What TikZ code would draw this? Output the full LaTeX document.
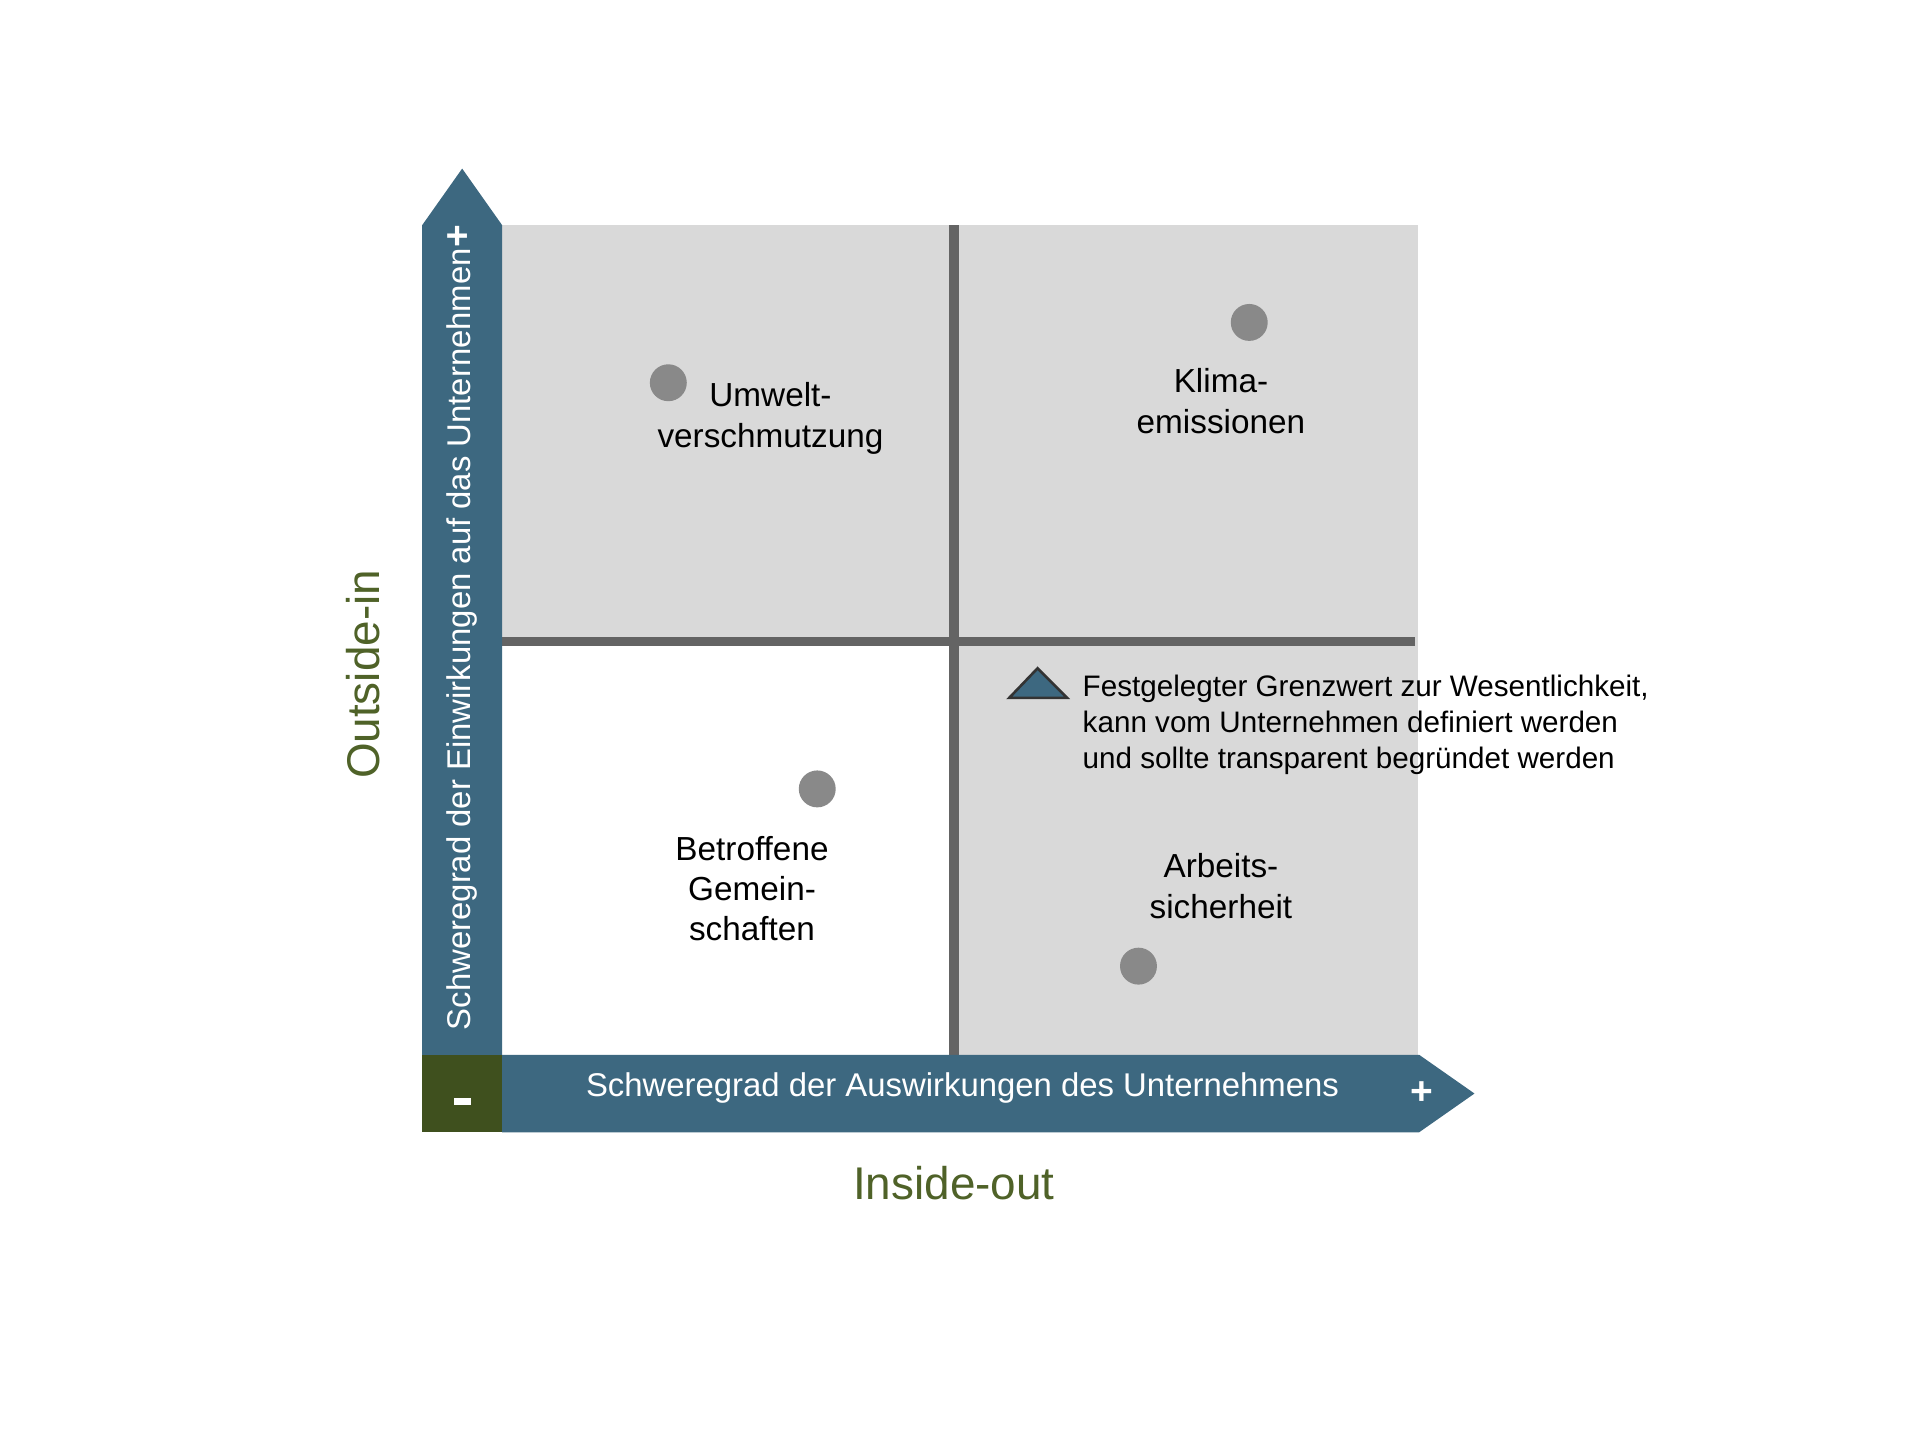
\documentclass[tikz,border=0pt]{standalone}
\usepackage{fontspec}
\setmainfont{Liberation Sans}
\usepackage{tikz}
\usetikzlibrary{positioning}

\definecolor{axisblue}{RGB}{61,104,128}
\definecolor{minusgreen}{RGB}{63,80,30}
\definecolor{titlegreen}{RGB}{79,98,40}
\definecolor{fieldgray}{RGB}{217,217,217}
\definecolor{linegray}{RGB}{100,100,100}
\definecolor{dotgray}{RGB}{137,137,137}

\tikzset{
  topic/.style={align=center, font=\fontsize{7.7}{9.3}\selectfont, inner sep=0pt},
  dot/.style={circle, fill=dotgray, minimum size=0.3cm, inner sep=0pt},
  axistext/.style={text=white, font=\fontsize{7.6}{9}\selectfont, inner sep=0pt},
  sidetitle/.style={text=titlegreen, font=\fontsize{10.6}{12}\selectfont, inner sep=0pt}
}

\begin{document}
\begin{tikzpicture}
          \useasboundingbox (0,0) rectangle (15.6,11.7);
          % quadrants
          \fill[fieldgray] (4.08,3.13) rectangle (11.52,9.87);
          \fill[white] (4.08,3.13) rectangle (7.75,6.49);
          % dividers
          \draw[linegray, line width=0.08cm] (7.75,3.13) -- (7.75,9.87);
          \draw[linegray, line width=0.07cm] (4.08,6.49) -- (11.50,6.49);
          % vertical arrow
          \fill[axisblue] (3.43,3.13) -- (3.43,9.87) -- (3.755,10.33) -- (4.08,9.87) -- (4.08,3.13) -- cycle;
          \node[axistext, rotate=90] (einw) at (3.75,6.60) {Schweregrad der Einwirkungen auf das Unternehmen\textbf{\fontsize{9}{10}\selectfont+}};
          % horizontal arrow
          \fill[axisblue] (4.08,2.50) -- (11.53,2.50) -- (11.98,2.815) -- (11.53,3.13) -- (4.08,3.13) -- cycle;
          \node[axistext] (ausw) at (7.82,2.86) {Schweregrad der Auswirkungen des Unternehmens};
          \node[axistext, font=\bfseries\fontsize{9}{10}\selectfont] (plus) at (11.55,2.82) {+};
          % minus corner
          \fill[minusgreen] (3.43,2.50) rectangle (4.08,3.13);
          \node[axistext] (minus) at (3.76,2.75) {\rule{0.14cm}{0.05cm}};
          % axis titles
          \node[sidetitle, rotate=90] (outin) at (2.95,6.22) {Outside-in};
          \node[sidetitle] (inout) at (7.75,2.09) {Inside-out};
          % topics
          \node[dot] (d1) at (5.43,8.59) {};
          \node[topic] (t1) at (6.26,8.30) {Umwelt-\\verschmutzung};
          \node[dot] (d2) at (10.15,9.08) {};
          \node[topic] (t2) at (9.92,8.44) {Klima-\\emissionen};
          \node[dot] (d3) at (6.64,5.29) {};
          \node[topic] (t3) at (6.11,4.48) {Betroffene\\Gemein-\\schaften};
          \node[dot] (d4) at (9.25,3.85) {};
          \node[topic] (t4) at (9.92,4.50) {Arbeits-\\sicherheit};
          % threshold note
          \draw[fill=axisblue, draw=black!80, line width=0.6pt] (8.20,6.03) -- (8.43,6.27) -- (8.67,6.03) -- cycle;
          \node[anchor=west, align=left, inner sep=0pt, font=\fontsize{6.85}{8.4}\selectfont] (note) at (8.79,5.81) {Festgelegter Grenzwert zur Wesentlichkeit,\\kann vom Unternehmen definiert werden\\und sollte transparent begründet werden};
        \end{tikzpicture}
\end{document}
